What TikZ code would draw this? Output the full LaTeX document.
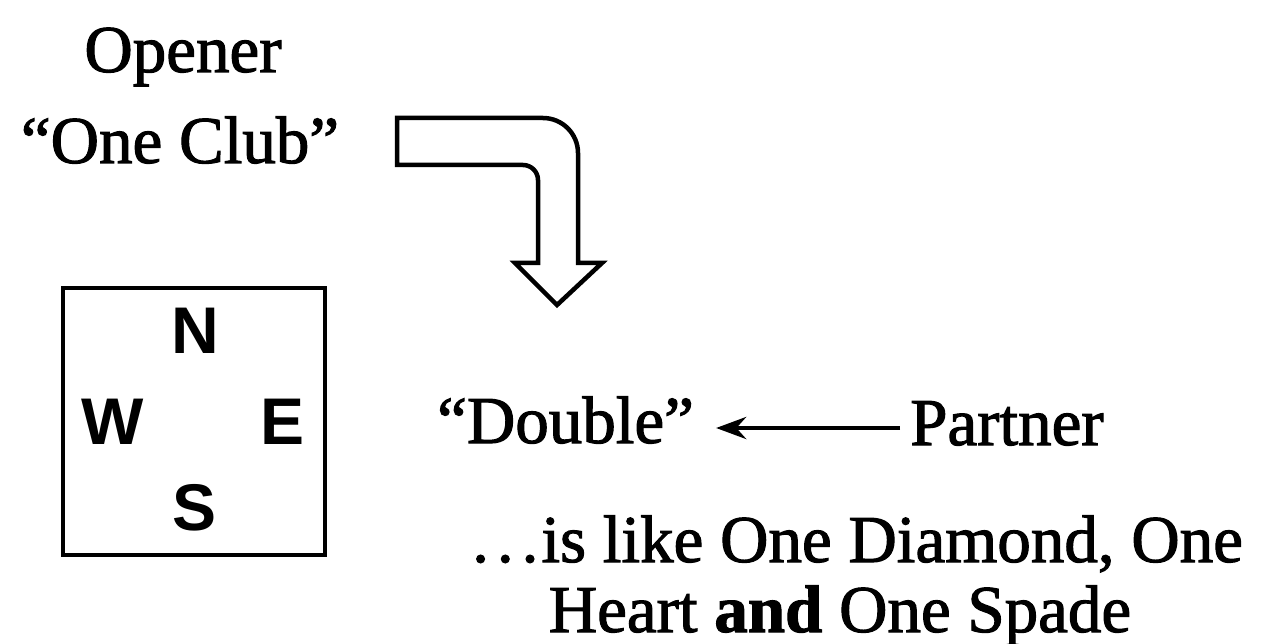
\documentclass[tikz,border=0pt]{standalone}
\usepackage{fontspec}
\setmainfont{Liberation Serif}[UprightFeatures={FakeBold=1.6},BoldFeatures={FakeBold=1.6}]
\newfontfamily\compassfont{Liberation Sans}[BoldFont={Liberation Sans Bold}]
\usetikzlibrary{arrows.meta}
\tikzset{
  lbl/.style={inner sep=0pt, anchor=base, font=\fontsize{67}{80}\selectfont},
  dir/.style={inner sep=0pt, font=\compassfont\bfseries\fontsize{66}{80}\selectfont},
  outline/.style={line width=4.5pt, line join=miter},
}
\begin{document}
\begin{tikzpicture}[x=1pt,y=-1pt]
\useasboundingbox (0,0) rectangle (1263,644);
% texts
\node[lbl] (opener) at (183,72) {Opener};
\node[lbl] (club) at (180,163) {“One Club”};
\node[lbl, anchor=base west] (double) at (437,443) {“Double”};
\node[lbl, anchor=base west] (partner) at (910,445) {Partner};
\node[lbl, anchor=base west] (line1) at (472,562) {.\kern8pt.\kern8pt.\kern3pt is like One Diamond, One};
\node[lbl] (line2) at (840,632) {Heart \textbf{and} One Spade};
% compass box
\node[draw, line width=4pt, minimum width=262pt, minimum height=267pt, inner sep=0pt] (box) at (194,421.5) {};
\node[dir] (n) at (195,331) {N};
\node[dir] (w) at (113,422) {W};
\node[dir] (e) at (283,422) {E};
\node[dir] (s) at (195,508) {S};
% bent block arrow
\draw[outline] (397,118) -- (543,118) .. controls (562.3,118) and (578,133.7) .. (578,153)
  -- (578,263) -- (602,263) -- (557,305) -- (515,263) -- (538,263) -- (538,180)
  .. controls (538,171.7) and (531.3,165) .. (523,165) -- (397,165) -- cycle;
% partner arrow
\draw[line width=4.5pt, -{Stealth[length=30pt, width=22pt]}] ([shift={(-10,-17)}]partner.base west) -- ([shift={(22,-15)}]double.base east);
\end{tikzpicture}
\end{document}
